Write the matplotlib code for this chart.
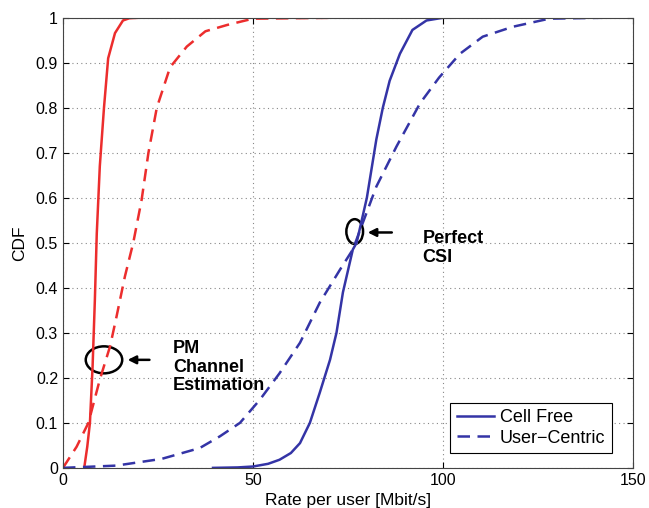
import matplotlib.pyplot as plt
from matplotlib.patches import Ellipse

plt.rcParams['font.family'] = ['Liberation Sans', 'DejaVu Sans']

# curves (x in Mbit/s, y = CDF)
pm_cf_x = [5.6, 6.4, 7.1, 7.8, 8.4, 8.9, 9.7, 10.8, 11.9, 13.7, 15.8, 17.5, 20]
pm_cf_y = [0, 0.047, 0.1, 0.225, 0.373, 0.52, 0.67, 0.80, 0.91, 0.966, 0.994, 0.999, 1]

pm_uc_x = [0, 3.6, 6.7, 9.7, 12.4, 14.1, 16.3, 18.5, 20.7, 22.5, 24.7, 28.2, 32.6,
           37.5, 43.2, 50, 72]
pm_uc_y = [0, 0.047, 0.1, 0.196, 0.27, 0.336, 0.425, 0.5, 0.595, 0.7, 0.8, 0.89, 0.936,
           0.97, 0.984, 0.998, 1]

csi_cf_x = [39.5, 46, 50, 54, 57, 60, 62.4, 65, 67.6, 70.3, 72, 73.7, 76.3, 77.3, 80,
            82.5, 84.2, 86, 88.7, 92, 95.7, 100, 102.6]
csi_cf_y = [0, 0.001, 0.003, 0.009, 0.018, 0.033, 0.055, 0.1, 0.167, 0.24, 0.3, 0.39,
            0.485, 0.5, 0.6, 0.73, 0.8, 0.86, 0.92, 0.973, 0.994, 1, 1]

csi_uc_x = [0, 14, 26, 36, 41.3, 46.6, 51.8, 57, 62.4, 67.6, 72.9, 76.3, 82.5, 87.8,
            94, 99, 104.5, 110.5, 118.4, 128, 142]
csi_uc_y = [0, 0.005, 0.02, 0.044, 0.07, 0.1, 0.151, 0.21, 0.278, 0.367, 0.44, 0.485,
            0.625, 0.714, 0.81, 0.867, 0.92, 0.958, 0.98, 0.998, 1]

red = '#ec2d2d'
blue = '#3434a6'
dash = (0, (5, 3))

fig = plt.figure(figsize=(6.49, 5.08), dpi=100)
ax = fig.add_axes([0.097, 0.079, 0.878, 0.886])

ax.plot(pm_cf_x, pm_cf_y, color=red, lw=1.8)
ax.plot(pm_uc_x, pm_uc_y, color=red, lw=1.8, linestyle=dash)
ax.plot(csi_cf_x, csi_cf_y, color=blue, lw=1.8, label='Cell Free')
ax.plot(csi_uc_x, csi_uc_y, color=blue, lw=1.8, linestyle=dash, label='User\u2212Centric')

ax.set_xlim(0, 150)
ax.set_ylim(0, 1)
ax.set_xticks([0, 50, 100, 150])
ax.set_yticks([i / 10 for i in range(11)])
ax.set_yticklabels(['0'] + [f'{i / 10:g}' for i in range(1, 10)] + ['1'])
ax.tick_params(direction='in', top=True, right=True, labelsize=11.5, length=4)
ax.grid(True, linestyle=(0, (1, 3)), color='#888888', lw=0.8)
for s in ax.spines.values():
    s.set_color('#444444')

ax.set_xlabel('Rate per user [Mbit/s]', fontsize=12.5, labelpad=4)
ax.set_ylabel('CDF', fontsize=12.5, labelpad=6)

# annotations
ax.add_patch(Ellipse((10.8, 0.24), 9.6, 0.06, fill=False, lw=1.8, color='black'))
ax.annotate('', xy=(16.3, 0.24), xytext=(23.5, 0.24),
            arrowprops=dict(arrowstyle='-|>', color='black', lw=1.8, mutation_scale=12))
ax.text(29, 0.283, 'PM\nChannel\nEstimation', fontsize=13, fontweight='bold',
        va='top', ha='left', linespacing=1.1)

ax.add_patch(Ellipse((76.8, 0.525), 4.4, 0.055, fill=False, lw=1.8, color='black'))
ax.annotate('', xy=(79.5, 0.523), xytext=(87.3, 0.523),
            arrowprops=dict(arrowstyle='-|>', color='black', lw=1.8, mutation_scale=12))
ax.text(94.6, 0.528, 'Perfect\nCSI', fontsize=13, fontweight='bold',
        va='top', ha='left', linespacing=1.1)

leg = ax.legend(loc='lower right', bbox_to_anchor=(0.963, 0.033), borderaxespad=0,
                fontsize=13, fancybox=False, edgecolor='black', framealpha=1,
                handlelength=2.1, borderpad=0.35, labelspacing=0.2, handletextpad=0.3)
leg.get_frame().set_linewidth(0.8)

fig.savefig('out.png', dpi=100)
